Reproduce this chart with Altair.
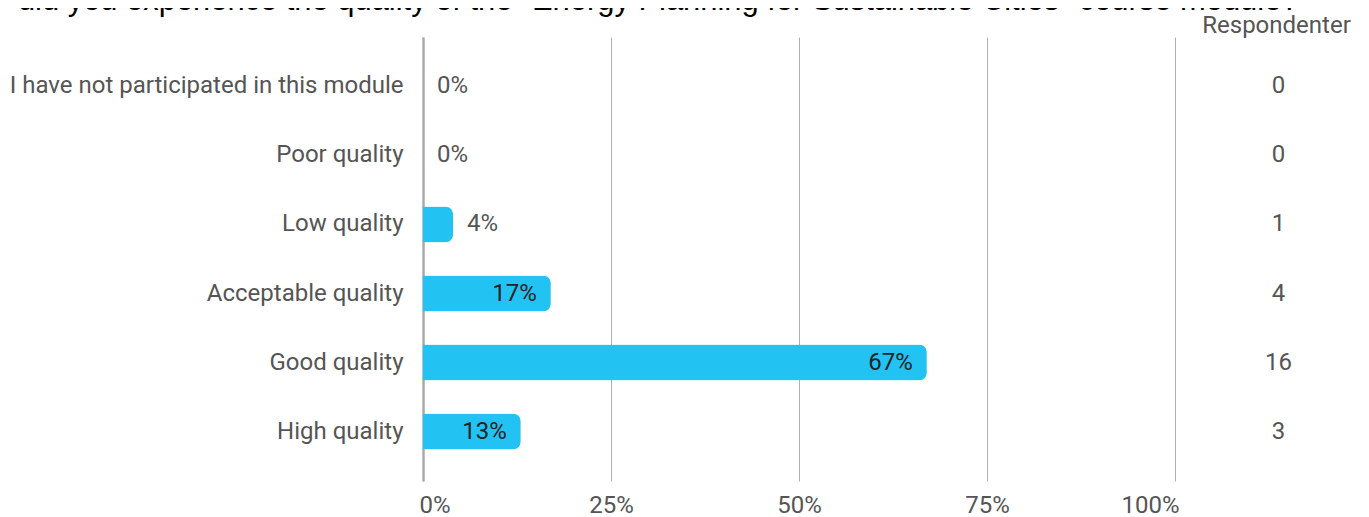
import altair as alt
import pandas as pd

categories = [
    "I have not participated in this module",
    "Poor quality",
    "Low quality",
    "Acceptable quality",
    "Good quality",
    "High quality",
]
percents = [0, 0, 4, 17, 67, 13]
pct_labels = ["0%", "0%", "4%", "17%", "67%", "13%"]
counts = ["0", "0", "1", "4", "16", "3"]
x_ticks = [0, 25, 50, 75, 100]
title_text = 'How did you experience the quality of the "Energy Planning for Sustainable Cities" course module?'
count_title = "Respondenter"

df = pd.DataFrame({"cat": categories, "pct": percents, "label": pct_labels, "count": counts})

FONT = "Roboto"
FS = 24
GREY = "#555555"

xscale = alt.Scale(domain=[0, 100], nice=False)


def yscale():
    return alt.Scale(type="band", domain=categories, paddingInner=0.48, paddingOuter=0.457)


count_expr = "''"
for c, n in reversed(list(zip(categories, counts))):
    count_expr = f"datum.value == '{c}' ? '{n}' : ({count_expr})"

base = alt.Chart(df)

bars = base.mark_bar(color="#22C3F3", cornerRadiusEnd=8).encode(
    x=alt.X(
        "pct:Q",
        scale=xscale,
        axis=alt.Axis(
            values=x_ticks,
            labelExpr="datum.value + '%'",
            grid=True,
            gridColor="#b0b0b0",
            gridWidth=1,
            domain=False,
            ticks=False,
            labelPadding=12,
            labelFlush=True,
            labelFlushOffset=4,
            labelFontSize=FS,
            labelColor=GREY,
            labelFont=FONT,
            title=None,
        ),
    ),
    y=alt.Y(
        "cat:N",
        sort=categories,
        scale=yscale(),
        axis=alt.Axis(
            orient="left",
            title=title_text,
            titleAngle=0,
            titleAlign="left",
            titleBaseline="alphabetic",
            titleX=-476,
            titleY=-28,
            titleFont="Liberation Sans",
            titleFontSize=30.9,
            titleFontWeight="normal",
            titleColor="#000000",
            titleLimit=3000,
            ticks=False,
            domain=True,
            domainColor="#aaaaaa",
            domainWidth=2.5,
            labelPadding=20,
            labelFontSize=FS,
            labelColor=GREY,
            labelFont=FONT,
            labelLimit=600,
        ),
    ),
)

outside = base.transform_filter("datum.pct < 10").mark_text(
    align="left", baseline="middle", dx=14, fontSize=FS, font=FONT, color=GREY
).encode(
    x=alt.X("pct:Q", scale=xscale),
    y=alt.Y("cat:N", sort=categories, scale=yscale(), axis=None),
    text="label:N",
)

inside = base.transform_filter("datum.pct >= 10").mark_text(
    align="right", baseline="middle", dx=-14, fontSize=FS, font=FONT, color="#222222"
).encode(
    x=alt.X("pct:Q", scale=xscale),
    y=alt.Y("cat:N", sort=categories, scale=yscale(), axis=None),
    text="label:N",
)

cnt = base.mark_point(opacity=0).encode(
    x=alt.X("pct:Q", scale=xscale),
    y=alt.Y(
        "cat:N",
        sort=categories,
        scale=yscale(),
        axis=alt.Axis(
            orient="right",
            title=count_title,
            titleAngle=0,
            titleAlign="center",
            titleBaseline="alphabetic",
            titleX=101,
            titleY=-5,
            titleFont=FONT,
            titleFontSize=FS,
            titleFontWeight="normal",
            titleColor=GREY,
            ticks=False,
            tickSize=0,
            domain=False,
            labelAlign="center",
            labelPadding=103,
            labelFontSize=FS,
            labelColor=GREY,
            labelFont=FONT,
            labelExpr=count_expr,
        ),
    ),
)

chart = (
    alt.layer(bars, outside, inside, cnt)
    .resolve_scale(y="independent")
    .properties(
        width=752,
        height=444,
        padding={"left": 415, "top": 29, "right": 186, "bottom": 36},
        autosize=alt.AutoSizeParams(type="none"),
    )
    .configure_view(stroke=None)
)

chart.save("out.html", embed_options={"renderer": "svg", "actions": False})
